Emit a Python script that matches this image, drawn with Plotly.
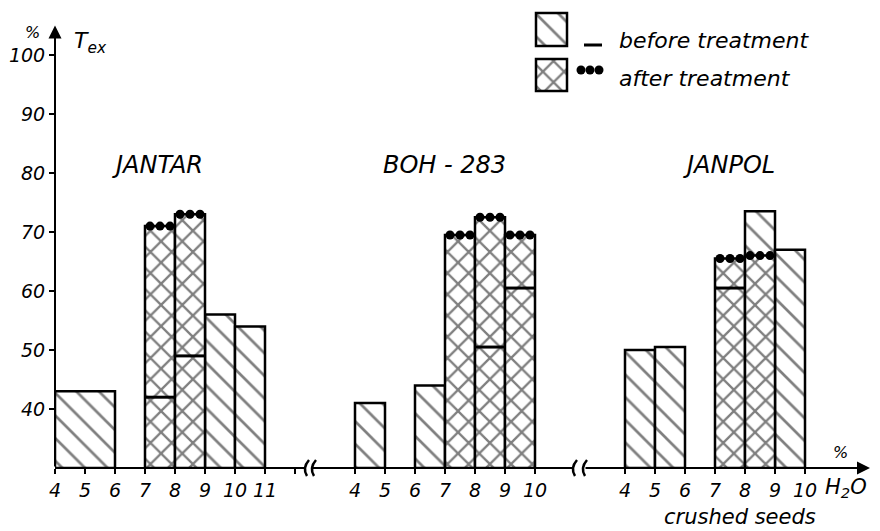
import plotly.graph_objects as go

# ---------------- data ----------------
Y_FLOOR = 30

group_names = ["JANTAR", "BOH - 283", "JANPOL"]

jantar_ticks = [4, 5, 6, 7, 8, 9, 10, 11]
jantar_from = [4, 7, 8, 9, 10]
jantar_to = [6, 8, 9, 10, 11]
jantar_before = [43, 42, 49, 56, 54]
jantar_after = [None, 71, 73, None, None]

boh_ticks = [4, 5, 6, 7, 8, 9, 10]
boh_from = [4, 6, 7, 8, 9]
boh_to = [5, 7, 8, 9, 10]
boh_before = [41, 44, None, 50.5, 60.5]
boh_after = [None, None, 69.5, 72.5, 69.5]

janpol_ticks = [4, 5, 6, 7, 8, 9, 10]
janpol_from = [4, 5, 7, 8, 9]
janpol_to = [5, 6, 8, 9, 10]
janpol_before = [50, 50.5, 60.5, 73.5, 67]
janpol_after = [None, None, 65.5, 66, None]

y_ticks = [40, 50, 60, 70, 80, 90, 100]
Y_ARROW = 105

# ---------------- layout constants (page pixels) ----------------
BODY = 8                       # default page margin around the figure
PAGE_W, PAGE_H = 880, 531
PLOT_L, PLOT_R, PLOT_T, PLOT_B = 55, 870, 8, 468
W, H = PAGE_W - BODY, PAGE_H - BODY
ML, MT = PLOT_L - BODY, PLOT_T - BODY
MR, MB = W - (PLOT_R - BODY), H - (PLOT_B - BODY)
PW, PH = PLOT_R - PLOT_L, PLOT_B - PLOT_T
UNIT_PX = 30.0                 # pixels per moisture step
Y_PX = 5.9                     # pixels per 1 % on the y axis
X_MAX = PW / UNIT_PX
Y_MAX = Y_FLOOR + PH / Y_PX
group_offsets = [-4, 6, 15]    # where each group's scale sits along the axis
BREAKS_PX = [(306, 313), (574, 584)]
FONT = "DejaVu Sans"

groups = [
    (jantar_ticks, jantar_from, jantar_to, jantar_before, jantar_after),
    (boh_ticks, boh_from, boh_to, boh_before, boh_after),
    (janpol_ticks, janpol_from, janpol_to, janpol_before, janpol_after),
]


def paper(xp, yp):
    return (xp - PLOT_L) / PW, (PLOT_B - yp) / PH


diag = {"x": [], "w": [], "y": []}
cross = {"x": [], "w": [], "y": []}
line_x, line_y = [], []
dot_x, dot_y = [], []
tickvals, ticktext = [], []

for (ticks, fr, to, before, after), off in zip(groups, group_offsets):
    for t in ticks:
        tickvals.append(t + off)
        ticktext.append(str(t))
    for f, t, b, a in zip(fr, to, before, after):
        xc = (f + t) / 2 + off
        w = t - f
        if a is None or (b is not None and b > a):
            diag["x"].append(xc); diag["w"].append(w); diag["y"].append(b)
        if a is not None:
            cross["x"].append(xc); cross["w"].append(w); cross["y"].append(a)
            for k in (-1, 0, 1):
                dot_x.append(xc + k * w / 3)
                dot_y.append(a)
            if b is not None and b < a:
                line_x += [xc - w / 2, xc + w / 2, None]
                line_y += [b, b, None]

# extra unlabeled tick at the end of the first group
tickvals.append(jantar_ticks[-1] + 1 + group_offsets[0])
ticktext.append(" ")

diag_pattern = dict(shape="\\", size=16, solidity=0.17, fgcolor="black", bgcolor="white")
cross_pattern = dict(shape="x", size=15, solidity=0.28, fgcolor="black", bgcolor="white")
outline = dict(color="black", width=2.5)

fig = go.Figure()
fig.add_trace(go.Bar(
    x=diag["x"], y=[v - Y_FLOOR for v in diag["y"]], base=Y_FLOOR, width=diag["w"],
    marker=dict(color="white", line=outline, pattern=diag_pattern), hoverinfo="skip"))
fig.add_trace(go.Bar(
    x=cross["x"], y=[v - Y_FLOOR for v in cross["y"]], base=Y_FLOOR, width=cross["w"],
    marker=dict(color="white", line=outline, pattern=cross_pattern), hoverinfo="skip"))
fig.add_trace(go.Scatter(x=line_x, y=line_y, mode="lines",
                         line=dict(color="black", width=3), hoverinfo="skip"))
fig.add_trace(go.Scatter(x=dot_x, y=dot_y, mode="markers",
                         marker=dict(color="black", size=9), hoverinfo="skip"))

# ---------------- legend (pixel-based overlay axes) ----------------
fig.add_trace(go.Bar(x=[551.5], y=[33], base=[13], width=[31], xaxis="x2", yaxis="y2",
                     marker=dict(color="white", line=outline, pattern=diag_pattern), hoverinfo="skip"))
fig.add_trace(go.Bar(x=[551.5], y=[32], base=[59], width=[31], xaxis="x2", yaxis="y2",
                     marker=dict(color="white", line=outline, pattern=cross_pattern), hoverinfo="skip"))
fig.add_trace(go.Scatter(x=[584, 602], y=[45, 45], mode="lines", xaxis="x2", yaxis="y2",
                         line=dict(color="black", width=3), hoverinfo="skip"))
fig.add_trace(go.Scatter(x=[581, 590, 599], y=[70, 70, 70], mode="markers", xaxis="x2", yaxis="y2",
                         marker=dict(color="black", size=9), hoverinfo="skip"))

annotations = []
shapes = []


def text(xp, yp, s, size, xanchor="center"):
    px_, py_ = paper(xp, yp)
    annotations.append(dict(x=px_, y=py_, xref="paper", yref="paper", text=s, showarrow=False,
                            xanchor=xanchor, yanchor="middle",
                            font=dict(family=FONT, size=size, color="black", style="italic")))


text(157, 165, group_names[0], 24)
text(444, 165, group_names[1], 24)
text(729, 165, group_names[2], 24)
text(617, 40, "before treatment", 22, "left")
text(617, 78, "after treatment", 22, "left")
text(32, 32, "%", 16)
text(90, 42, "T<sub>ex</sub>", 22)
text(840, 452, "%", 16)
text(846, 488, "H<sub>2</sub>O", 21)
text(740, 517, "crushed seeds", 21)

# x axis line in pieces with break marks
seg_px = [PLOT_L]
for a, b in BREAKS_PX:
    seg_px += [a, b]
for i in range(0, len(seg_px) - 1, 2):
    x0, _ = paper(seg_px[i], PLOT_B)
    x1, _ = paper(seg_px[i + 1], PLOT_B)
    shapes.append(dict(type="line", xref="paper", yref="paper", x0=x0, x1=x1, y0=0, y1=0,
                       line=dict(color="black", width=2)))


def curve(cx, cy):
    pts = [(cx + 3, cy - 8), (cx - 4, cy), (cx + 1, cy + 8)]
    p = [paper(*q) for q in pts]
    return "M {} {} Q {} {} {} {}".format(p[0][0], p[0][1], p[1][0], p[1][1], p[2][0], p[2][1])


for a, b in BREAKS_PX:
    for cx in (a, b):
        shapes.append(dict(type="path", xref="paper", yref="paper", path=curve(cx, PLOT_B),
                           line=dict(color="black", width=2.5)))

# last x segment with arrow, and y axis with arrow
last_start = (BREAKS_PX[-1][1] - PLOT_L) / UNIT_PX
annotations.append(dict(x=X_MAX, y=Y_FLOOR, ax=last_start, ay=Y_FLOOR, xref="x", yref="y",
                        axref="x", ayref="y", text="", showarrow=True, arrowhead=2,
                        arrowsize=1.3, arrowwidth=2, arrowcolor="black"))
annotations.append(dict(x=0, y=Y_ARROW, ax=0, ay=Y_FLOOR, xref="x", yref="y", axref="x",
                        ayref="y", text="", showarrow=True, arrowhead=2, arrowsize=1.3,
                        arrowwidth=2, arrowcolor="black"))

tickfont = dict(family=FONT, size=19, color="black", style="italic")
fig.update_layout(
    width=W, height=H, margin=dict(l=ML, r=MR, t=MT, b=MB, pad=0),
    paper_bgcolor="white", plot_bgcolor="white", showlegend=False, barmode="overlay",
    annotations=annotations, shapes=shapes,
    xaxis=dict(range=[0, X_MAX], tickvals=tickvals, ticktext=ticktext, ticks="outside",
               ticklen=5, tickwidth=2, tickcolor="black", showgrid=False, zeroline=False,
               showline=False, tickfont=tickfont),
    yaxis=dict(range=[Y_FLOOR, Y_MAX], tickvals=y_ticks, ticks="outside", ticklen=5,
               tickwidth=2, tickcolor="black", showgrid=False, zeroline=False, showline=False,
               tickfont=tickfont),
    xaxis2=dict(range=[PLOT_L, PLOT_R], overlaying="x", anchor="y2", visible=False),
    yaxis2=dict(range=[PLOT_B, PLOT_T], overlaying="y", anchor="x2", visible=False),
)

fig.write_html("out.html")
